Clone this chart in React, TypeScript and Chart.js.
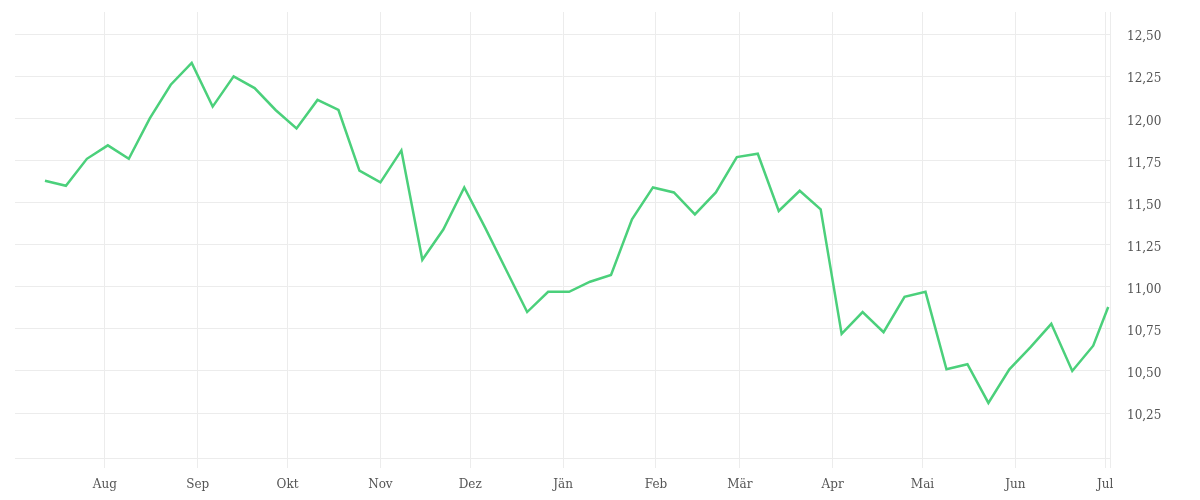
import React, { useEffect, useRef } from "react";
import { Chart, registerables } from "chart.js";

Chart.register(...registerables);

const dates: string[] = [
  "2022-07-12", "2022-07-19", "2022-07-26", "2022-08-02", "2022-08-09", "2022-08-16", "2022-08-23", "2022-08-30",
  "2022-09-06", "2022-09-13", "2022-09-20", "2022-09-27", "2022-10-04", "2022-10-11", "2022-10-18", "2022-10-25",
  "2022-11-01", "2022-11-08", "2022-11-15", "2022-11-22", "2022-11-29", "2022-12-06", "2022-12-13", "2022-12-20",
  "2022-12-27", "2023-01-03", "2023-01-10", "2023-01-17", "2023-01-24", "2023-01-31", "2023-02-07", "2023-02-14",
  "2023-02-21", "2023-02-28", "2023-03-07", "2023-03-14", "2023-03-21", "2023-03-28", "2023-04-04", "2023-04-11",
  "2023-04-18", "2023-04-25", "2023-05-02", "2023-05-09", "2023-05-16", "2023-05-23", "2023-05-30", "2023-06-06",
  "2023-06-13", "2023-06-20", "2023-06-27", "2023-07-02",
];

const prices: number[] = [
  11.63, 11.60, 11.76, 11.84, 11.76, 12.00, 12.20, 12.33,
  12.07, 12.25, 12.18, 12.05, 11.94, 12.11, 12.05, 11.69,
  11.62, 11.81, 11.16, 11.34, 11.59, 11.35, 11.10, 10.85,
  10.97, 10.97, 11.03, 11.07, 11.40, 11.59, 11.56, 11.43,
  11.56, 11.77, 11.79, 11.45, 11.57, 11.46, 10.72, 10.85,
  10.73, 10.94, 10.97, 10.51, 10.54, 10.31, 10.51, 10.64,
  10.78, 10.50, 10.65, 10.88,
];

const monthStarts: string[] = [
  "2022-08-01", "2022-09-01", "2022-10-01", "2022-11-01", "2022-12-01", "2023-01-01",
  "2023-02-01", "2023-03-01", "2023-04-01", "2023-05-01", "2023-06-01", "2023-07-01",
];
const monthLabels: string[] = ["Aug", "Sep", "Okt", "Nov", "Dez", "Jän", "Feb", "Mär", "Apr", "Mai", "Jun", "Jul"];

const yTickValues: number[] = [10.25, 10.5, 10.75, 11.0, 11.25, 11.5, 11.75, 12.0, 12.25, 12.5];

const rangeStart = "2022-07-02";
const rangeEnd = "2023-07-02";
const yMin = 9.983;
const yMax = 12.632;

const DAY = 86400000;
const toDay = (s: string) => (Date.parse(s + "T00:00:00Z") - Date.parse(rangeStart + "T00:00:00Z")) / DAY;

export default function App() {
  const ref = useRef<HTMLCanvasElement | null>(null);

  useEffect(() => {
    if (!ref.current) return;
    const fontFamily = "'DejaVu Serif', serif";
    const gridColor = "#ececec";
    const xMax = toDay(rangeEnd) + 0.6;
    const monthDays = monthStarts.map(toDay);
    const chart = new Chart(ref.current, {
      type: "line",
      data: {
        datasets: [
          {
            data: dates.map((d, i) => ({ x: toDay(d), y: prices[i] })),
            borderColor: "#4bd07b",
            borderWidth: 2.5,
            pointRadius: 0,
            tension: 0,
            fill: false,
          },
        ],
      },
      options: {
        animation: false,
        responsive: true,
        maintainAspectRatio: false,
        layout: { padding: { left: 7, top: 4, right: 0, bottom: 0 } },
        plugins: { legend: { display: false }, tooltip: { enabled: false } },
        scales: {
          x: {
            type: "linear",
            min: 0,
            max: xMax,
            afterBuildTicks: (scale: any) => {
              scale.ticks = [...monthDays.map((v) => ({ value: v })), { value: xMax }];
            },
            afterFit: (scale: any) => {
              scale.height = 34;
            },
            grid: { color: gridColor, tickLength: 10, lineWidth: 1 },
            border: { display: true, color: gridColor },
            ticks: {
              autoSkip: false,
              maxRotation: 0,
              padding: 10,
              color: "#555",
              font: { family: fontFamily, size: 12 },
              callback: (v: any) => {
                const idx = monthDays.indexOf(Number(v));
                return idx >= 0 ? monthLabels[idx] : "";
              },
            },
          },
          y: {
            position: "right",
            min: yMin,
            max: yMax,
            afterBuildTicks: (scale: any) => {
              scale.ticks = yTickValues.map((v) => ({ value: v }));
            },
            afterFit: (scale: any) => {
              scale.width = 82;
              scale.paddingTop = 0;
              scale.paddingBottom = 0;
            },
            grid: { color: gridColor, drawTicks: true, tickLength: 17, tickColor: "rgba(0,0,0,0)" },
            border: { display: false },
            ticks: {
              padding: 0,
              color: "#555",
              font: { family: fontFamily, size: 12, lineHeight: 0.5 },
              callback: (v: any) => ["", Number(v).toFixed(2).replace(".", ",")],
            },
          },
        },
      },
    });
    return () => chart.destroy();
  }, []);

  return (
    <div style={{ position: "relative", width: "100%", height: 484 }}>
      <canvas ref={ref} />
    </div>
  );
}
